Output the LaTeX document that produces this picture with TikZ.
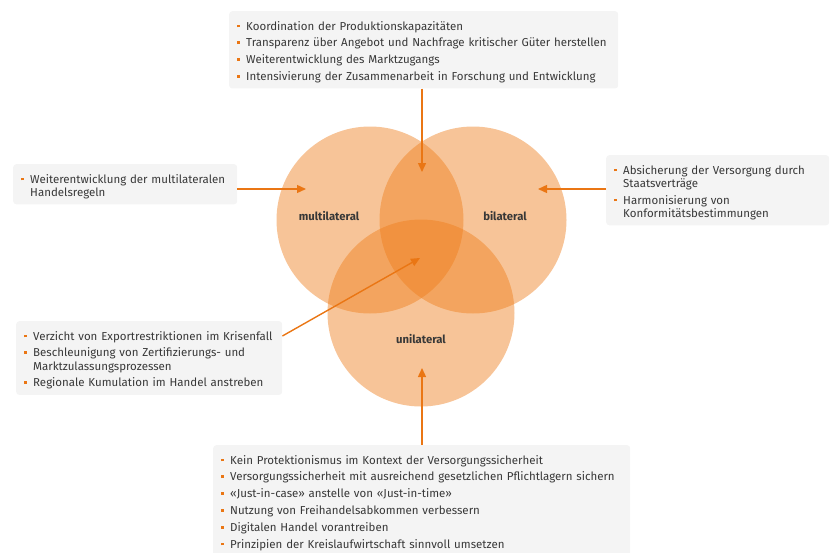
\documentclass[tikz,border=0pt]{standalone}
\usepackage{fontspec}
\setmainfont{Fira Sans}
\usetikzlibrary{arrows.meta,positioning}
\definecolor{accent}{HTML}{EA7614}
\definecolor{venn}{HTML}{EE7D1A}
\definecolor{boxgray}{HTML}{F4F4F4}
\definecolor{ink}{HTML}{383838}
% one bullet point of a box
\newcommand\itm[1]{\par\hangindent=9pt\hangafter=1\noindent
  \hbox to 9pt{\textcolor{accent}{\raisebox{2.8pt}{\rule{2.7pt}{2.7pt}}}\hfil}#1\par}

\begin{document}
\begin{tikzpicture}[x=1pt,y=-1pt,
  box/.style={fill=boxgray, rounded corners=3pt, anchor=north west,
    inner xsep=8pt, inner ysep=5.5pt, text=ink,
    font=\fontsize{11.5}{13.2}\selectfont,
    execute at begin node={\setlength{\parskip}{3.6pt}\vspace*{-3.4pt}}},
  circ/.style={circle, minimum size=187pt, inner sep=0pt,
    fill=venn, fill opacity=0.45},
  lab/.style={text=ink, font=\bfseries\fontsize{11.3}{12}\selectfont},
  arr/.style={accent, line width=1.4pt, -{Triangle[length=9pt,width=8pt]}},
  ]
  \useasboundingbox (0,0) rectangle (830,552);
  \clip (0,0) rectangle (830,552);

  % the three circles
  \node[circ] (multi) at (370,220) {};
  \node[circ] (bi) at (473,220) {};
  \node[circ] (uni) at (421,313) {};
  \node[lab] (ml) at (329,216) {multilateral};
  \node[lab] (bl) at (505,216) {bilateral};
  \node[lab] (ul) at (421,339) {unilateral};

  % boxes
  \node[box, text width=373pt] (top) at (229,11) {
    \itm{Koordination der Produktionskapazitäten}
    \itm{Transparenz über Angebot und Nachfrage kritischer Güter herstellen}
    \itm{Weiterentwicklung des Marktzugangs}
    \itm{Intensivierung der Zusammenarbeit in Forschung und Entwicklung}};
  \node[box, text width=208pt] (left) at (13,164) {
    \itm{Weiterentwicklung der multilateralen\newline Handelsregeln}};
  \node[box, text width=207pt] (right) at (606,155) {
    \itm{Absicherung der Versorgung durch\newline Staatsverträge}
    \itm{Harmonisierung von\newline Konformitätsbestimmungen}};
  \node[box, text width=250pt] (lowleft) at (16,321) {
    \itm{Verzicht von Exportrestriktionen im Krisenfall}
    \itm{Beschleunigung von Zertifizierungs- und\newline Marktzulassungsprozessen}
    \itm{Regionale Kumulation im Handel anstreben}};
  \node[box, text width=401pt] (bottom) at (213,445) {
    \itm{Kein Protektionismus im Kontext der Versorgungssicherheit}
    \itm{Versorgungssicherheit mit ausreichend gesetzlichen Pflichtlagern sichern}
    \itm{«Just-in-case» anstelle von «Just-in-time»}
    \itm{Nutzung von Freihandelsabkommen verbessern}
    \itm{Digitalen Handel vorantreiben}
    \itm{Prinzipien der Kreislaufwirtschaft sinnvoll umsetzen}\vspace{6pt}};

  % arrows into the circles
  \coordinate (ttip) at (422,172);
  \coordinate (ltip) at (306,189);
  \coordinate (rtip) at (538,189);
  \coordinate (dtip) at (420,258);
  \coordinate (btip) at (422,368);
  \draw[arr] (top.south -| ttip) -- (ttip);
  \draw[arr] (left.east |- ltip) -- (ltip);
  \draw[arr] (right.west |- rtip) -- (rtip);
  \draw[arr] ([yshift=-15pt]lowleft.north east) -- (dtip);
  \draw[arr] (bottom.north -| btip) -- (btip);
\end{tikzpicture}
\end{document}
